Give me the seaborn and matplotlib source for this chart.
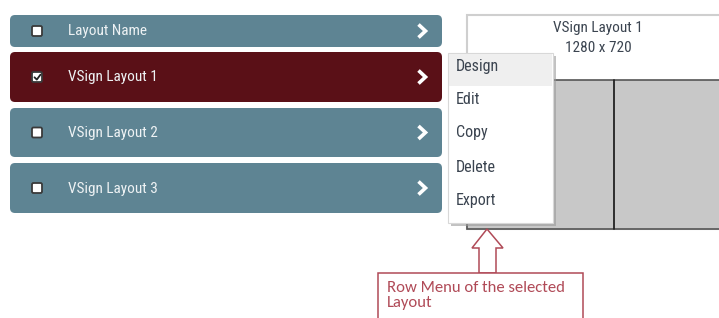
import matplotlib
matplotlib.use("Agg")
import matplotlib.pyplot as plt
import seaborn as sns
from matplotlib.patches import FancyBboxPatch, Rectangle, Polygon

# ================= DATA =================
ROW_LABELS = ["Layout Name", "VSign Layout 1", "VSign Layout 2", "VSign Layout 3"]
ROW_CHECKED = [False, True, False, False]
ROW_TOP = [15, 52, 108, 163]
ROW_BOTTOM = [47, 102, 157, 213]
MENU_ITEMS = ["Design", "Edit", "Copy", "Delete", "Export"]
MENU_Y = [67, 100, 133, 167, 200]
PREVIEW_TITLE = "VSign Layout 1"
PREVIEW_SIZE = "1280 x 720"
NOTE_TEXT = "Row Menu of the selected\nLayout"

# ================= STYLE =================
ROW_COLOR = "#5e8493"
SEL_COLOR = "#5a1017"
UI_TEXT = "#eef2f4"
MENU_TEXT = "#3b4450"
NOTE_COLOR = "#b04a57"
UI_FONT = ["Roboto Condensed", "DejaVu Sans"]
NOTE_FONT = ["Carlito", "DejaVu Sans"]

sns.set_theme(style="white")
plt.rcParams['font.family'] = UI_FONT

fig = plt.figure(figsize=(7.19, 3.18), dpi=100)
ax = fig.add_axes([0, 0, 1, 1])
ax.set_xlim(0, 719)
ax.set_ylim(318, 0)
ax.axis("off")

# --- list rows ---
for label, checked, top, bot in zip(ROW_LABELS, ROW_CHECKED, ROW_TOP, ROW_BOTTOM):
    color = SEL_COLOR if checked else ROW_COLOR
    ax.add_patch(FancyBboxPatch((10, top), 432, bot - top,
                                boxstyle="round,pad=0,rounding_size=5",
                                facecolor=color, edgecolor="none"))
    cy = (top + bot) / 2
    ax.add_patch(FancyBboxPatch((32, cy - 5), 10, 10,
                                boxstyle="round,pad=0,rounding_size=1.5",
                                facecolor="white", edgecolor="#3a3a3a", linewidth=1.3))
    if checked:
        ax.plot([34.5, 36.8, 40.5], [cy + 0.3, cy + 2.6, cy - 2.4], color="#222222", lw=1.3)
    ax.text(68, cy + 0.5, label, color=UI_TEXT, fontsize=11, va="center", ha="left")
    ax.plot([418.5, 425.5, 418.5], [cy - 6.5, cy, cy + 6.5], color="white", lw=2.6,
            solid_capstyle="butt", solid_joinstyle="miter")

# --- preview panel ---
ax.add_patch(Rectangle((467, 15), 260, 214, facecolor="white",
                       edgecolor="#cfcfcf", linewidth=1.5))
ax.add_patch(Rectangle((467, 80), 260, 149, facecolor="#c8c8c8",
                       edgecolor="#555555", linewidth=1.2))
ax.plot([614, 614], [80, 229], color="#222222", lw=1.3)
ax.text(598, 28, PREVIEW_TITLE, color=MENU_TEXT, fontsize=11, ha="center", va="center")
ax.text(598, 48, PREVIEW_SIZE, color=MENU_TEXT, fontsize=11, ha="center", va="center")

# --- row menu ---
ax.add_patch(Rectangle((451, 56), 105, 170, facecolor="#9a9a9a",
                       edgecolor="none", alpha=0.6))
ax.add_patch(Rectangle((448, 53), 105, 170, facecolor="white",
                       edgecolor="#d8d8d8", linewidth=0.8))
ax.add_patch(Rectangle((449, 54), 103, 32, facecolor="#efefef", edgecolor="none"))
for item, y in zip(MENU_ITEMS, MENU_Y):
    ax.text(456, y, item, color=MENU_TEXT, fontsize=11.5, va="center", ha="left")

# --- callout arrow and note ---
arrow = [(487, 229), (503, 248), (496, 248), (496, 273),
         (479, 273), (479, 248), (472, 248)]
ax.add_patch(Polygon(arrow, closed=True, facecolor="white",
                     edgecolor=NOTE_COLOR, linewidth=1.1))
ax.add_patch(Rectangle((378, 273), 205, 60, facecolor="white",
                       edgecolor=NOTE_COLOR, linewidth=1.1))
ax.text(387, 281, NOTE_TEXT, color=NOTE_COLOR, fontsize=12, va="top", ha="left",
        family=NOTE_FONT, linespacing=1.05)

fig.savefig("out.png", dpi=100)
